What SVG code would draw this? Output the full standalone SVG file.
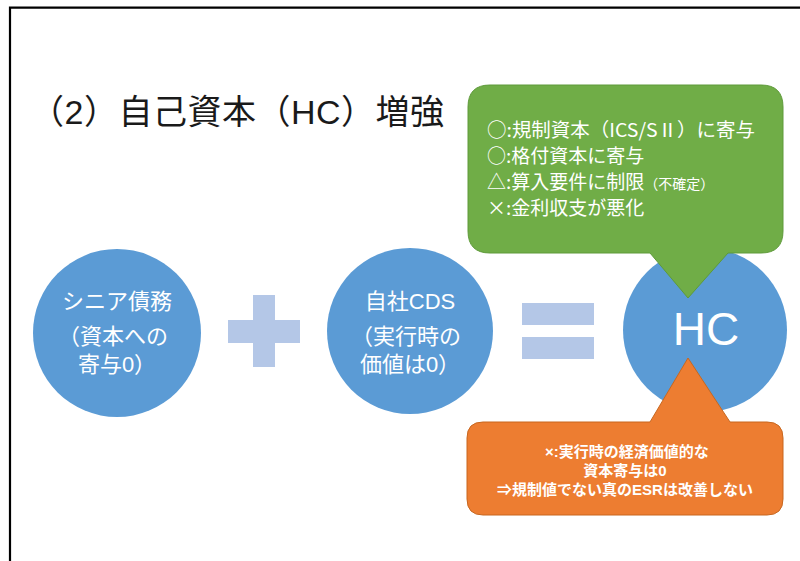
<svg xmlns="http://www.w3.org/2000/svg" width="800" height="561" viewBox="0 0 800 561">
<style>
.jp{font-family:"Liberation Sans","Noto Sans CJK JP",sans-serif}
.cjk{font-family:"Noto Sans CJK JP",sans-serif}
.circle{fill:#5B9BD5}
.sym{fill:#B4C7E7}
.ct{fill:#fff;font-size:22px;text-anchor:middle}
.gt{fill:#fff;font-size:19px}
.ot{fill:#fff;font-size:15px;text-anchor:middle;font-weight:bold}
</style>
<rect width="800" height="561" fill="#fff"/>
<path d="M10,561 V7.7 H800" fill="none" stroke="#000" stroke-width="2.2"/>
<g id="title" class="jp">
<text x="30" y="124" font-size="34" letter-spacing="0.5" fill="#1a1a1a">（2）自己資本（HC）増強</text>
</g>
<g id="senior-debt" class="jp">
<circle class="circle" cx="117" cy="333" r="84"/>
<text class="ct" x="117" y="309">シニア債務</text>
<text class="ct" x="113" y="344">（資本への</text>
<text class="ct" x="117" y="372">寄与0）</text>
</g>
<g id="plus">
<rect class="sym" x="253" y="295" width="22" height="72"/>
<rect class="sym" x="228" y="320" width="72" height="23"/>
</g>
<g id="own-cds" class="jp">
<circle class="circle" cx="410" cy="331" r="83"/>
<text class="ct" x="410" y="309">自社CDS</text>
<text class="ct" x="406" y="344">（実行時の</text>
<text class="ct" x="410" y="372">価値は0）</text>
</g>
<g id="equals">
<rect class="sym" x="522" y="303" width="72" height="22"/>
<rect class="sym" x="522" y="337" width="72" height="22"/>
</g>
<g id="hc" class="jp">
<circle class="circle" cx="705" cy="330" r="82"/>
<text x="706" y="345" font-size="46" fill="#fff" text-anchor="middle">HC</text>
</g>
<g id="connectors"></g>
<g id="callout-merits" class="cjk">
<path d="M490,85 H761 Q783,85 783,107 V231 Q783,253 761,253 H728 L688,298 L650,253 H490 Q468,253 468,231 V107 Q468,85 490,85 Z" fill="#70AD47" stroke="#5E9A3A" stroke-width="1"/>
<text class="gt" x="487" y="137" textLength="268" lengthAdjust="spacingAndGlyphs">○:規制資本（ICS/SⅡ）に寄与</text>
<text class="gt" x="487" y="163">○:格付資本に寄与</text>
<text class="gt" x="487" y="189">△:算入要件に制限<tspan font-size="14">（不確定）</tspan></text>
<text class="gt" x="487" y="215">×:金利収支が悪化</text>
</g>
<g id="callout-demerit" class="jp">
<path d="M483,422 H650 L688,358 L730,422 H767 Q783,422 783,438 V499 Q783,515 767,515 H483 Q467,515 467,499 V438 Q467,422 483,422 Z" fill="#ED7D31" stroke="#C8671F" stroke-width="1"/>
<text class="ot" x="627" y="457">×:実行時の経済価値的な</text>
<text class="ot" x="625" y="476">資本寄与は0</text>
<text class="ot" x="625" y="495">⇒規制値でない真のESRは改善しない</text>
</g>
</svg>
